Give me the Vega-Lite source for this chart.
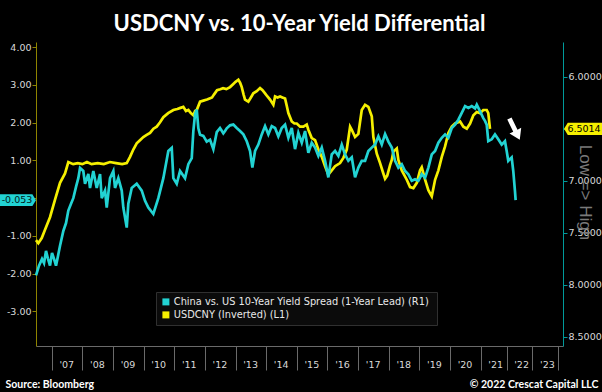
{
  "$schema": "https://vega.github.io/schema/vega-lite/v6.json",
  "autosize": {"type": "none"},
  "width": 527,
  "height": 304,
  "padding": {"left": 36, "top": 42, "right": 39, "bottom": 46},
  "background": "#000000",
  "title": {"text": "USDCNY vs. 10-Year Yield Differential", "color": "#ffffff", "font": "Lato", "fontSize": 22, "fontWeight": "bold", "anchor": "middle", "baseline": "alphabetic", "offset": 7, "dy": 18},
  "config": {"view": {"stroke": null}, "axis": {"grid": false, "ticks": true, "labelOverlap": false, "labelFont": "DejaVu Sans", "labelFontSize": 9.5, "labelColor": "#d9d9d9"}},
  "datasets": {
    "cny": [
      {"t":2006.488,"r":7.57},{"t":2006.563,"r":7.60},{"t":2006.674,"r":7.55},{"t":2006.781,"r":7.47},{"t":2006.944,"r":7.35},{"t":2007.108,"r":7.18},{"t":2007.271,"r":7.02},{"t":2007.434,"r":6.93},{"t":2007.542,"r":6.82},{"t":2007.70,"r":6.84},{"t":2007.85,"r":6.83},{"t":2008.0,"r":6.84},{"t":2008.15,"r":6.82},{"t":2008.3,"r":6.84},{"t":2008.5,"r":6.83},{"t":2008.7,"r":6.84},{"t":2008.9,"r":6.82},{"t":2009.1,"r":6.83},{"t":2009.3,"r":6.84},{"t":2009.448,"r":6.83},{"t":2009.556,"r":6.77},{"t":2009.663,"r":6.70},{"t":2009.774,"r":6.64},{"t":2009.880,"r":6.61},{"t":2009.990,"r":6.58},{"t":2010.10,"r":6.56},{"t":2010.209,"r":6.54},{"t":2010.32,"r":6.50},{"t":2010.427,"r":6.48},{"t":2010.53,"r":6.44},{"t":2010.643,"r":6.39},{"t":2010.80,"r":6.35},{"t":2010.969,"r":6.32},{"t":2011.10,"r":6.31},{"t":2011.20,"r":6.30},{"t":2011.295,"r":6.29},{"t":2011.38,"r":6.33},{"t":2011.459,"r":6.32},{"t":2011.54,"r":6.35},{"t":2011.622,"r":6.37},{"t":2011.68,"r":6.33},{"t":2011.733,"r":6.32},{"t":2011.841,"r":6.24},{"t":2011.95,"r":6.23},{"t":2012.069,"r":6.22},{"t":2012.15,"r":6.21},{"t":2012.232,"r":6.20},{"t":2012.30,"r":6.17},{"t":2012.396,"r":6.13},{"t":2012.50,"r":6.12},{"t":2012.591,"r":6.11},{"t":2012.70,"r":6.12},{"t":2012.820,"r":6.10},{"t":2012.927,"r":6.07},{"t":2013.00,"r":6.05},{"t":2013.091,"r":6.03},{"t":2013.15,"r":6.06},{"t":2013.202,"r":6.10},{"t":2013.26,"r":6.17},{"t":2013.309,"r":6.22},{"t":2013.417,"r":6.24},{"t":2013.50,"r":6.20},{"t":2013.580,"r":6.16},{"t":2013.69,"r":6.14},{"t":2013.799,"r":6.11},{"t":2013.88,"r":6.13},{"t":2013.962,"r":6.16},{"t":2014.04,"r":6.19},{"t":2014.125,"r":6.22},{"t":2014.233,"r":6.27},{"t":2014.289,"r":6.19},{"t":2014.37,"r":6.20},{"t":2014.452,"r":6.19},{"t":2014.53,"r":6.20},{"t":2014.615,"r":6.21},{"t":2014.67,"r":6.28},{"t":2014.723,"r":6.35},{"t":2014.834,"r":6.43},{"t":2014.92,"r":6.45},{"t":2014.997,"r":6.45},{"t":2015.105,"r":6.48},{"t":2015.212,"r":6.48},{"t":2015.323,"r":6.46},{"t":2015.375,"r":6.51},{"t":2015.486,"r":6.59},{"t":2015.594,"r":6.61},{"t":2015.702,"r":6.70},{"t":2015.813,"r":6.77},{"t":2015.921,"r":6.86},{"t":2016.028,"r":6.94},{"t":2016.139,"r":6.90},{"t":2016.247,"r":6.86},{"t":2016.410,"r":6.83},{"t":2016.518,"r":6.78},{"t":2016.629,"r":6.70},{"t":2016.737,"r":6.48},{"t":2016.792,"r":6.51},{"t":2016.900,"r":6.58},{"t":2017.007,"r":6.55},{"t":2017.118,"r":6.32},{"t":2017.226,"r":6.27},{"t":2017.334,"r":6.29},{"t":2017.445,"r":6.38},{"t":2017.497,"r":6.58},{"t":2017.608,"r":6.74},{"t":2017.716,"r":6.83},{"t":2017.823,"r":6.93},{"t":2017.879,"r":6.98},{"t":2017.950,"r":6.95},{"t":2018.042,"r":6.85},{"t":2018.098,"r":6.80},{"t":2018.150,"r":6.72},{"t":2018.261,"r":6.69},{"t":2018.313,"r":6.80},{"t":2018.424,"r":6.90},{"t":2018.587,"r":6.99},{"t":2018.695,"r":7.06},{"t":2018.803,"r":7.07},{"t":2018.914,"r":7.02},{"t":2019.021,"r":6.90},{"t":2019.077,"r":6.87},{"t":2019.185,"r":6.99},{"t":2019.292,"r":7.09},{"t":2019.403,"r":7.15},{"t":2019.511,"r":6.99},{"t":2019.619,"r":6.90},{"t":2019.730,"r":6.77},{"t":2019.837,"r":6.67},{"t":2019.945,"r":6.54},{"t":2020.056,"r":6.48},{"t":2020.164,"r":6.45},{"t":2020.327,"r":6.43},{"t":2020.435,"r":6.48},{"t":2020.546,"r":6.50},{"t":2020.653,"r":6.45},{"t":2020.761,"r":6.37},{"t":2020.872,"r":6.34},{"t":2020.980,"r":6.35},{"t":2021.100,"r":6.32},{"t":2021.232,"r":6.32},{"t":2021.293,"r":6.35},{"t":2021.359,"r":6.5014}
    ],
    "yld": [
      {"t":2006.488,"v":-2.05},{"t":2006.585,"v":-1.79},{"t":2006.683,"v":-1.61},{"t":2006.749,"v":-1.72},{"t":2006.814,"v":-1.40},{"t":2006.879,"v":-1.61},{"t":2006.944,"v":-1.79},{"t":2007.010,"v":-1.45},{"t":2007.075,"v":-1.61},{"t":2007.140,"v":-1.79},{"t":2007.206,"v":-1.53},{"t":2007.271,"v":-1.26},{"t":2007.379,"v":-0.87},{"t":2007.467,"v":-0.66},{"t":2007.542,"v":-0.33},{"t":2007.630,"v":-0.15},{"t":2007.705,"v":0.00},{"t":2007.793,"v":0.30},{"t":2007.868,"v":0.53},{"t":2007.924,"v":0.80},{"t":2008.031,"v":0.72},{"t":2008.087,"v":0.38},{"t":2008.195,"v":0.64},{"t":2008.250,"v":0.27},{"t":2008.358,"v":0.72},{"t":2008.469,"v":0.27},{"t":2008.577,"v":0.64},{"t":2008.632,"v":0.00},{"t":2008.740,"v":0.20},{"t":2008.795,"v":-0.25},{"t":2008.903,"v":0.53},{"t":2009.011,"v":0.72},{"t":2009.066,"v":0.27},{"t":2009.174,"v":0.53},{"t":2009.285,"v":0.20},{"t":2009.337,"v":-0.25},{"t":2009.448,"v":-0.78},{"t":2009.500,"v":-0.15},{"t":2009.611,"v":0.27},{"t":2009.774,"v":0.38},{"t":2009.938,"v":0.20},{"t":2010.045,"v":-0.07},{"t":2010.153,"v":-0.25},{"t":2010.316,"v":-0.42},{"t":2010.479,"v":0.00},{"t":2010.643,"v":0.53},{"t":2010.806,"v":1.25},{"t":2010.917,"v":1.33},{"t":2010.969,"v":0.53},{"t":2011.080,"v":0.38},{"t":2011.188,"v":0.72},{"t":2011.351,"v":0.53},{"t":2011.459,"v":0.90},{"t":2011.570,"v":1.06},{"t":2011.622,"v":1.78},{"t":2011.677,"v":2.22},{"t":2011.733,"v":2.35},{"t":2011.785,"v":1.85},{"t":2011.841,"v":1.68},{"t":2011.948,"v":1.65},{"t":2012.059,"v":1.50},{"t":2012.167,"v":1.55},{"t":2012.275,"v":1.30},{"t":2012.386,"v":1.75},{"t":2012.493,"v":1.86},{"t":2012.601,"v":1.72},{"t":2012.657,"v":1.78},{"t":2012.712,"v":1.85},{"t":2012.820,"v":1.93},{"t":2012.927,"v":1.95},{"t":2013.038,"v":1.86},{"t":2013.146,"v":1.78},{"t":2013.254,"v":1.69},{"t":2013.365,"v":1.51},{"t":2013.473,"v":1.25},{"t":2013.548,"v":0.81},{"t":2013.636,"v":1.25},{"t":2013.743,"v":1.42},{"t":2013.854,"v":1.69},{"t":2013.962,"v":1.91},{"t":2014.070,"v":1.69},{"t":2014.181,"v":1.91},{"t":2014.289,"v":1.86},{"t":2014.396,"v":1.64},{"t":2014.507,"v":1.86},{"t":2014.615,"v":1.95},{"t":2014.723,"v":1.60},{"t":2014.834,"v":1.86},{"t":2014.941,"v":1.30},{"t":2015.049,"v":1.73},{"t":2015.160,"v":1.47},{"t":2015.268,"v":1.78},{"t":2015.375,"v":1.20},{"t":2015.486,"v":1.47},{"t":2015.594,"v":1.34},{"t":2015.702,"v":1.12},{"t":2015.813,"v":1.34},{"t":2015.921,"v":0.99},{"t":2016.028,"v":0.55},{"t":2016.139,"v":1.16},{"t":2016.247,"v":1.25},{"t":2016.355,"v":1.12},{"t":2016.466,"v":1.42},{"t":2016.573,"v":1.16},{"t":2016.681,"v":0.99},{"t":2016.792,"v":1.08},{"t":2016.900,"v":0.55},{"t":2017.007,"v":0.81},{"t":2017.118,"v":0.99},{"t":2017.226,"v":0.99},{"t":2017.334,"v":1.25},{"t":2017.445,"v":1.34},{"t":2017.553,"v":1.42},{"t":2017.660,"v":1.64},{"t":2017.771,"v":1.42},{"t":2017.879,"v":1.70},{"t":2017.987,"v":1.50},{"t":2018.098,"v":1.34},{"t":2018.205,"v":0.99},{"t":2018.313,"v":0.81},{"t":2018.424,"v":0.90},{"t":2018.532,"v":0.72},{"t":2018.639,"v":0.63},{"t":2018.750,"v":0.46},{"t":2018.858,"v":0.50},{"t":2018.966,"v":0.46},{"t":2019.077,"v":0.63},{"t":2019.185,"v":0.54},{"t":2019.292,"v":0.81},{"t":2019.403,"v":1.16},{"t":2019.511,"v":1.25},{"t":2019.619,"v":1.47},{"t":2019.730,"v":1.60},{"t":2019.837,"v":1.69},{"t":2019.945,"v":1.60},{"t":2020.056,"v":1.86},{"t":2020.164,"v":1.95},{"t":2020.271,"v":2.08},{"t":2020.382,"v":2.26},{"t":2020.490,"v":2.44},{"t":2020.598,"v":2.39},{"t":2020.709,"v":2.44},{"t":2020.817,"v":2.38},{"t":2020.872,"v":2.48},{"t":2020.980,"v":2.30},{"t":2021.100,"v":2.12},{"t":2021.166,"v":2.05},{"t":2021.232,"v":1.95},{"t":2021.293,"v":1.51},{"t":2021.425,"v":1.56},{"t":2021.552,"v":1.69},{"t":2021.680,"v":1.56},{"t":2021.811,"v":1.42},{"t":2021.938,"v":1.51},{"t":2022.004,"v":1.25},{"t":2022.066,"v":0.99},{"t":2022.197,"v":1.08},{"t":2022.259,"v":0.72},{"t":2022.324,"v":0.19},{"t":2022.351,"v":-0.053}
    ]
  },
  "encoding": {
    "x": {
      "field": "t", "type": "quantitative",
      "scale": {"domain": [2006.487, 2021, 2024, 2024.19], "range": [0, 444.7, 522.3, 527], "nice": false, "zero": false},
      "axis": {
        "orient": "bottom",
        "values": [2007,2008,2009,2010,2011,2012,2013,2014,2015,2016,2017,2018,2019,2020,2021,2022,2023,2024],
        "labelExpr": "datum.value < 2024 ? \"'\" + format(datum.value - 2000, '02d') : ''",
        "labelOffset": 14.5,
        "ticks": true, "tickSize": 24, "tickWidth": 1, "labelPadding": -5.5, "labelBaseline": "middle", "labelAlign": "center",
        "labelFlush": false, "labelOverlap": false,
        "domainColor": "#6a6a6a", "tickColor": "#6a6a6a", "labelColor": "#d9d9d9",
        "title": "Source: Bloomberg", "titleX": -31, "titleY": 38, "titleAlign": "left", "titleBaseline": "middle",
        "titleColor": "#ffffff", "titleFont": "Lato", "titleFontSize": 10.5, "titleFontWeight": "bold"
      }
    }
  },
  "resolve": {"scale": {"y": "independent"}},
  "layer": [
    {
      "layer": [
        {
          "data": {"name": "cny"},
          "mark": {"type": "line", "strokeWidth": 2.7},
          "encoding": {
            "y": {
              "field": "r", "type": "quantitative",
              "scale": {"domain": [5.667, 8.587], "reverse": true, "nice": false, "zero": false},
              "axis": {
                "orient": "right",
                "values": [6,6.5,7,7.5,8,8.5],
                "labelExpr": "datum.value !== 6.5 ? format(datum.value, '.4f') : ''",
                "labelOverlap": false,
                "domainColor": "#009a9a", "tickColor": "#009a9a", "ticks": true, "tickSize": 4, "tickWidth": 1,
                "labelPadding": 1, "labelColor": "#d9d9d9",
                "title": "Low => High", "titleAngle": 90, "titleX": 21.7, "titleY": 150, "titleAlign": "center", "titleBaseline": "middle",
                "titleColor": "#7a7a7a", "titleFont": "Liberation Sans", "titleFontSize": 17, "titleFontWeight": "normal"
              }
            },
            "color": {
              "datum": "USDCNY (Inverted) (L1)",
              "scale": {"domain": ["China vs. US  10-Year Yield Spread (1-Year Lead) (R1)", "USDCNY (Inverted) (L1)"], "range": ["#22d3d3", "#f5ef00"]},
              "legend": {
                "orient": "none", "legendX": 120, "legendY": 250, "title": null,
                "fillColor": "#0b0b0b", "strokeColor": "#303030", "padding": 5,
                "symbolType": "square", "symbolSize": 49, "symbolStrokeWidth": 0,
                "labelFont": "DejaVu Sans", "labelFontSize": 9.8, "labelColor": "#e8e8e8", "labelLimit": 400,
                "rowPadding": 2, "labelOffset": 3,
                "encode": {"symbols": {"update": {"fill": {"scale": "color", "field": "value"}, "opacity": {"value": 1}}}}
              }
            }
          }
        },
        {
          "data": {"values": [{"t": 2024.19, "r": 6.5014, "label": "6.5014"}]},
          "mark": {"type": "point", "shape": "M -1 0 L -0.8 -0.32 L 1 -0.32 L 1 0.32 L -0.8 0.32 Z", "size": 1444, "filled": true, "fill": "#f5ef00", "opacity": 1, "strokeWidth": 0, "xOffset": 20, "clip": false},
          "encoding": {"y": {"field": "r", "type": "quantitative"}}
        },
        {
          "data": {"values": [{"t": 2024.19, "r": 6.5014, "label": "6.5014"}]},
          "mark": {"type": "text", "font": "DejaVu Sans", "fontSize": 9.5, "fill": "#000000", "xOffset": 21, "align": "center", "baseline": "middle", "clip": false},
          "encoding": {"y": {"field": "r", "type": "quantitative"}, "text": {"field": "label"}}
        }
      ]
    },
    {
      "layer": [
        {
          "data": {"name": "yld"},
          "mark": {"type": "line", "strokeWidth": 2.7},
          "encoding": {
            "y": {
              "field": "v", "type": "quantitative",
              "scale": {"domain": [-3.92, 4.14], "nice": false, "zero": false},
              "axis": {
                "orient": "left",
                "values": [-3,-2,-1,0,1,2,3,4],
                "labelExpr": "datum.value !== 0 ? replace(format(datum.value, '.2f'), '−', '-') : ''",
                "labelOverlap": false,
                "domainColor": "#8f8400", "tickColor": "#8f8400", "ticks": true, "tickSize": 4, "tickWidth": 1,
                "labelPadding": 1, "labelColor": "#d9d9d9",
                "title": "© 2022 Crescat Capital LLC", "titleAngle": 0, "titleX": 562, "titleY": 342, "titleAlign": "right", "titleBaseline": "middle",
                "titleColor": "#ffffff", "titleFont": "Lato", "titleFontSize": 10.5, "titleFontWeight": "bold"
              }
            },
            "color": {"datum": "China vs. US  10-Year Yield Spread (1-Year Lead) (R1)"}
          }
        },
        {
          "data": {"values": [{"t": 2006.487, "v": -0.053, "label": "-0.053"}]},
          "mark": {"type": "point", "shape": "M -1 -0.33 L 0.8 -0.33 L 1 0 L 0.8 0.33 L -1 0.33 Z", "size": 1296, "filled": true, "fill": "#22d3d3", "opacity": 1, "strokeWidth": 0, "xOffset": -18, "clip": false},
          "encoding": {"y": {"field": "v", "type": "quantitative"}}
        },
        {
          "data": {"values": [{"t": 2006.487, "v": -0.053, "label": "-0.053"}]},
          "mark": {"type": "text", "font": "DejaVu Sans", "fontSize": 9.5, "fill": "#001a1a", "xOffset": -19, "align": "center", "baseline": "middle", "clip": false},
          "encoding": {"y": {"field": "v", "type": "quantitative"}, "text": {"field": "label"}}
        },
        {
          "data": {"values": [{"t": 2022.31, "v": 1.83}]},
          "mark": {"type": "point", "shape": "M -0.2 -1 L 0.2 -1 L 0.2 0.15 L 0.55 0.15 L 0 1 L -0.55 0.15 L -0.2 0.15 Z", "size": 560, "filled": true, "fill": "#ffffff", "opacity": 1, "strokeWidth": 0, "angle": -26},
          "encoding": {"y": {"field": "v", "type": "quantitative"}}
        }
      ]
    }
  ]
}
